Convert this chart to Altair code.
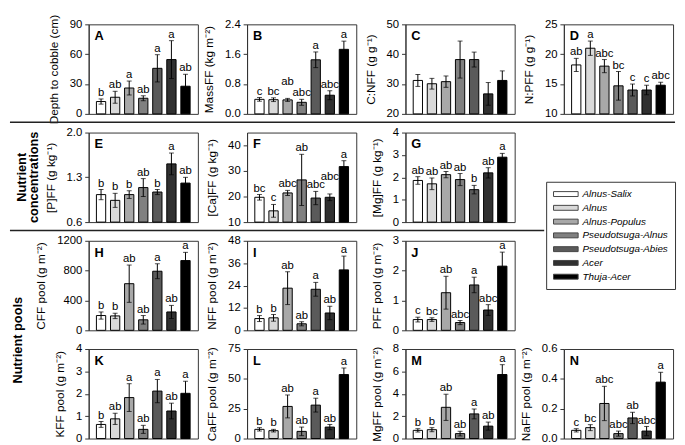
import altair as alt
import pandas as pd

groups = ["Alnus-Salix", "Alnus", "Alnus-Populus", "Pseudotsuga-Alnus",
          "Pseudotsuga-Abies", "Acer", "Thuja-Acer"]
fills = ["#ffffff", "#d9d9d9", "#a8a8a8", "#808080", "#5a5a5a", "#303030", "#000000"]

# A  Depth to cobble
a_mean = [12.4, 16.7, 26.0, 15.7, 45.8, 54.6, 27.8]
a_se = [2.6, 6.0, 7.0, 2.5, 13.7, 19.0, 12.0]
a_sig = ["b", "ab", "a", "ab", "a", "a", "ab"]
# B  Mass FF
b_mean = [0.39, 0.38, 0.375, 0.31, 1.45, 0.50, 1.73]
b_se = [0.05, 0.05, 0.04, 0.08, 0.21, 0.12, 0.22]
b_sig = ["c", "bc", "ab", "abc", "a", "abc", "a"]
# C  C:N
c_mean = [31.2, 30.1, 30.8, 38.2, 38.2, 26.7, 31.2]
c_se = [2.0, 1.8, 1.9, 6.2, 2.5, 3.8, 3.2]
c_sig = ["", "", "", "", "", "", ""]
# D  N:P
d_mean = [18.2, 21.0, 18.0, 14.7, 14.0, 14.0, 14.8]
d_se = [1.1, 1.2, 1.1, 2.4, 1.0, 0.8, 0.5]
d_sig = ["ab", "a", "abc", "bc", "c", "c", "abc"]
# E  [P]
e_mean = [1.03, 0.94, 1.03, 1.14, 1.07, 1.51, 1.21]
e_se = [0.08, 0.11, 0.06, 0.14, 0.04, 0.17, 0.09]
e_sig = ["b", "b", "b", "ab", "b", "a", "ab"]
# F  [Ca]
f_mean = [19.7, 14.4, 21.4, 26.5, 19.4, 19.7, 31.7]
f_se = [1.1, 2.5, 1.0, 10.0, 2.6, 1.3, 2.3]
f_sig = ["bc", "c", "abc", "ab", "abc", "abc", "a"]
# G  [Mg]
g_mean = [1.86, 1.71, 2.12, 1.90, 1.45, 2.20, 2.90]
g_se = [0.17, 0.26, 0.14, 0.27, 0.19, 0.23, 0.17]
g_sig = ["ab", "ab", "ab", "ab", "b", "ab", "a"]
# H  C pool
h_mean = [198, 193, 625, 141, 792, 246, 935]
h_se = [48, 36, 250, 57, 100, 88, 110]
h_sig = ["b", "b", "ab", "ab", "a", "ab", "a"]
# I  N pool
i_mean = [6.3, 6.7, 22.6, 3.5, 22.0, 9.3, 32.4]
i_se = [1.6, 1.8, 8.8, 1.1, 3.7, 3.6, 7.4]
i_sig = ["b", "b", "ab", "ab", "a", "ab", "a"]
# J  P pool
j_mean = [0.36, 0.36, 1.26, 0.26, 1.52, 0.68, 2.15]
j_se = [0.08, 0.06, 0.55, 0.07, 0.26, 0.18, 0.47]
j_sig = ["c", "bc", "ab", "abc", "a", "abc", "a"]
# K  K pool
k_mean = [0.63, 0.88, 1.83, 0.41, 2.12, 1.23, 2.02]
k_se = [0.13, 0.25, 0.62, 0.18, 0.52, 0.35, 0.54]
k_sig = ["b", "ab", "a", "ab", "a", "ab", "a"]
# L  Ca pool
l_mean = [7.7, 6.6, 26.9, 6.0, 28.0, 9.6, 53.6]
l_se = [1.4, 1.1, 9.6, 3.6, 5.8, 2.2, 5.5]
l_sig = ["b", "b", "ab", "ab", "a", "ab", "a"]
# M  Mg pool
m_mean = [0.73, 0.79, 2.79, 0.44, 2.20, 1.11, 5.72]
m_se = [0.15, 0.18, 1.17, 0.21, 0.44, 0.36, 0.88]
m_sig = ["b", "b", "ab", "ab", "a", "ab", "a"]
# N  Na pool
n_mean = [0.055, 0.073, 0.235, 0.033, 0.138, 0.050, 0.378]
n_se = [0.011, 0.020, 0.115, 0.017, 0.038, 0.031, 0.066]
n_sig = ["c", "bc", "abc", "abc", "ab", "abc", "a"]

FONT = "Liberation Sans"
W, H = 111, 91
one = pd.DataFrame({"k": [0]})

xenc = alt.X("group:N", sort=groups, axis=None,
             scale=alt.Scale(domain=groups, paddingInner=0.34, paddingOuter=0.55))


def panel(letter, title, mean, se, sig, domain, ticks, fmt, extras=(), lifted=()):
    df = pd.DataFrame({"group": groups, "mean": mean, "se": se, "sig": sig})
    df["hi"] = df["mean"] + df["se"]
    df["lo"] = df["mean"] - df["se"]
    df["lift"] = [1 if i in lifted else 0 for i in range(len(groups))]
    ys = alt.Scale(domain=domain, nice=False, zero=False)
    ya = alt.Axis(values=ticks, format=fmt, title=title)

    def Y(f):
        return alt.Y(f"{f}:Q", scale=ys, axis=ya)

    base = alt.Chart(df)
    bars = base.mark_bar(stroke="black", strokeWidth=1).encode(
        x=xenc, y=Y("mean"), y2=alt.datum(domain[0]),
        fill=alt.Fill("group:N", scale=alt.Scale(domain=groups, range=fills), legend=None))
    err = base.mark_rule(color="black", strokeWidth=1).encode(x=xenc, y=Y("lo"), y2="hi:Q")
    cap_hi = base.mark_tick(color="black", size=5, thickness=1).encode(x=xenc, y=Y("hi"))
    cap_lo = base.mark_tick(color="black", size=5, thickness=1).encode(x=xenc, y=Y("lo"))
    txt = base.transform_filter("datum.lift == 0").mark_text(
        font=FONT, fontSize=11.5, baseline="alphabetic", dy=-3,
        color="black").encode(x=xenc, y=Y("hi"), text="sig:N")
    txt2 = base.transform_filter("datum.lift == 1").mark_text(
        font=FONT, fontSize=11.5, baseline="alphabetic", dy=-14,
        color="black").encode(x=xenc, y=Y("hi"), text="sig:N")
    lab = alt.Chart(pd.DataFrame({"t": [letter]})).mark_text(
        font=FONT, fontSize=13, fontWeight="bold", align="left", baseline="alphabetic",
        color="black").encode(x=alt.value(6), y=alt.value(16), text="t:N")
    layers = [bars, err, cap_hi, cap_lo, txt, lab]
    if lifted:
        layers.append(txt2)
    return alt.layer(*layers, *extras).properties(width=W, height=H)


line1 = alt.Chart(one).mark_rule(color="#222", strokeWidth=1.5).encode(
    x=alt.value(-80), x2=alt.value(596), y=alt.value(99.5))
line2 = alt.Chart(one).mark_rule(color="#222", strokeWidth=1.5).encode(
    x=alt.value(-80), x2=alt.value(463), y=alt.value(99.5))
conc_txt = alt.Chart(one).mark_text(
    text=["Nutrient", "concentrations"], angle=270, font=FONT, fontSize=13, fontWeight="bold",
    align="center", baseline="middle", lineHeight=13, color="black").encode(
    x=alt.value(-68), y=alt.value(45.5))
pool_txt = alt.Chart(one).mark_text(
    text="Nutrient pools", angle=270, font=FONT, fontSize=13, fontWeight="bold",
    align="center", baseline="middle", color="black").encode(
    x=alt.value(-72), y=alt.value(-9))

pA = panel("A", "Depth to cobble (cm)", a_mean, a_se, a_sig, [0, 90], [0, 30, 60, 90], "d", [line1])
pB = panel("B", "MassFF (kg m⁻²)", b_mean, b_se, b_sig, [0, 2.4], [0, 0.8, 1.6, 2.4], ".1f",
           lifted=(2,))
pC = panel("C", "C:NFF (g g⁻¹)", c_mean, c_se, c_sig, [20, 50], [20, 30, 40, 50], "d")
pD = panel("D", "N:PFF (g g⁻¹)", d_mean, d_se, d_sig, [10, 25], [10, 15, 20, 25], "d")
pE = panel("E", "[P]FF (g kg⁻¹)", e_mean, e_se, e_sig, [0.6, 2.0], [0.6, 1.3, 2.0], ".1f",
           [line2, conc_txt])
pF = panel("F", "[Ca]FF (g kg⁻¹)", f_mean, f_se, f_sig, [10, 45], [10, 20, 30, 40], "d",
           lifted=(5,))
pG = panel("G", "[Mg]FF (g kg⁻¹)", g_mean, g_se, g_sig, [0, 4], [0, 1, 2, 3, 4], "d")
pH = panel("H", "CFF pool (g m⁻²)", h_mean, h_se, h_sig, [0, 1200], [0, 400, 800, 1200], "d")
pI = panel("I", "NFF pool (g m⁻²)", i_mean, i_se, i_sig, [0, 48], [0, 12, 24, 36, 48], "d")
pJ = panel("J", "PFF pool (g m⁻²)", j_mean, j_se, j_sig, [0, 3], [0, 1, 2, 3], "d")
pK = panel("K", "KFF pool (g m⁻²)", k_mean, k_se, k_sig, [0, 4], [0, 1, 2, 3, 4], "d", [pool_txt])
pL = panel("L", "CaFF pool (g m⁻²)", l_mean, l_se, l_sig, [0, 75], [0, 25, 50, 75], "d")
pM = panel("M", "MgFF pool (g m⁻²)", m_mean, m_se, m_sig, [0, 8], [0, 2, 4, 6, 8], "d")
pN = panel("N", "NaFF pool (g m⁻²)", n_mean, n_se, n_sig, [0, 0.6], [0, 0.2, 0.4, 0.6], ".1f")

legend_cell = alt.Chart(pd.DataFrame({"group": groups})).mark_square(size=0).encode(
    fill=alt.Fill("group:N", sort=groups, scale=alt.Scale(domain=groups, range=fills),
                  legend=alt.Legend(orient="none", legendX=-18, legendY=50, title=None,
                                    direction="vertical", symbolType="M-1,-0.5H4V0.5H-1Z",
                                    symbolSize=100, symbolStrokeColor="#444",
                                    symbolStrokeWidth=1, symbolOpacity=1,
                                    labelFont=FONT, labelFontSize=10, labelFontStyle="italic",
                                    labelColor="black", labelOffset=19, labelLimit=300,
                                    padding=7, rowPadding=3, fillColor="white",
                                    strokeColor="#333"))
).properties(width=W, height=H, view=alt.ViewBackground(stroke="transparent"))

blank = alt.Chart(one).mark_point(size=0).properties(
    width=W, height=H, view=alt.ViewBackground(stroke="transparent"))

cells = [pA, pB, pC, pD, pE, pF, pG, legend_cell, pH, pI, pJ, blank, pK, pL, pM, pN]

chart = alt.concat(*cells, columns=4, spacing={"row": 19, "column": 50}, bounds="flush").resolve_scale(
    x="independent", y="independent", fill="independent").resolve_legend(fill="independent").configure_axis(
    labelFont=FONT, labelFontSize=11.5, labelColor="black", titleFont=FONT, titleFontSize=12,
    titleFontWeight="normal", titleColor="black", domainColor="#333", tickColor="#333",
    tickSize=4, labelPadding=3, titlePadding=9, grid=False).configure_view(
    stroke="#333", strokeWidth=1).properties(
    padding={"left": 0, "top": 2, "right": 0, "bottom": 0})

chart.save("out.html", embed_options={"renderer": "svg", "actions": False})
